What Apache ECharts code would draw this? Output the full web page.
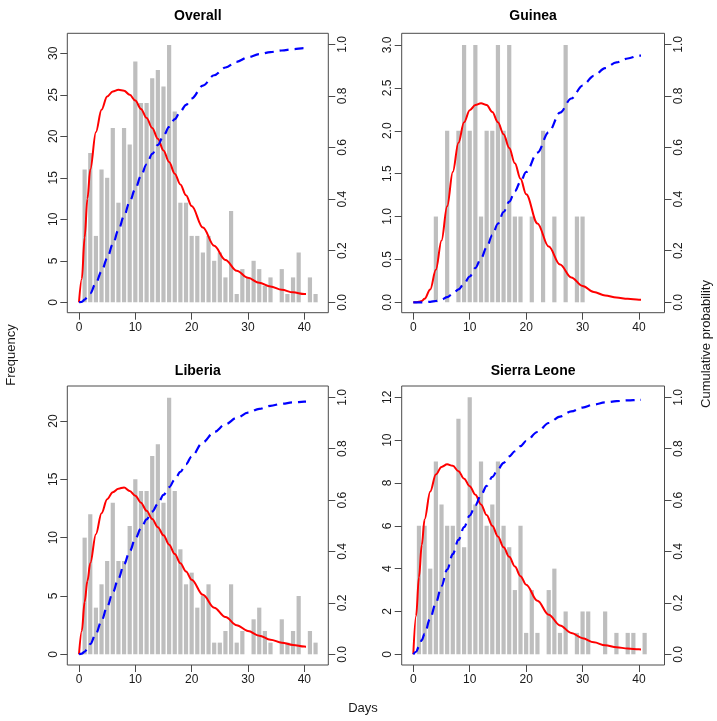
<!DOCTYPE html>
<html>
<head>
<meta charset="utf-8">
<script src="https://cdn.jsdelivr.net/npm/echarts@6/dist/echarts.min.js"></script>
<style>
  html, body { margin: 0; padding: 0; background: #ffffff; }
  #chart { width: 717px; height: 721px; }
</style>
</head>
<body>
<div id="chart"></div>
<script>
// Incubation period: daily case counts (bars), fitted density (red) and cumulative probability (blue, dashed)
const days = [0,1,2,3,4,5,6,7,8,9,10,11,12,13,14,15,16,17,18,19,20,21,22,23,24,25,26,27,28,29,30,31,32,33,34,35,36,37,38,39,40,41,42];

const overallCounts     = [0,16,18,8,16,15,21,12,21,19,29,24,24,27,28,26,31,23,12,12,8,8,6,8,5,6,3,11,1,4,3,5,4,2,3,0,4,1,3,6,0,3,1];
const guineaCounts      = [0,0,0,0,1,0,2,0,2,3,2,3,1,2,2,3,2,3,1,1,0,1,0,2,0,1,0,3,0,1,1,0,0,0,0,0,0,0,0,0,0,0,0];
const liberiaCounts     = [0,10,12,4,6,8,13,8,8,11,15,14,14,17,18,13,22,14,9,6,7,4,5,6,1,1,2,6,1,2,0,3,4,2,1,0,3,1,2,5,0,2,1];
const sierraLeoneCounts = [0,6,6,4,9,7,6,6,11,5,12,7,9,6,7,9,6,5,3,6,1,3,1,0,3,4,1,2,0,1,2,2,0,0,2,0,1,0,1,1,0,1,0];

const curveDays = [0,0.5,1,1.5,2,3,4,5,6,7,8,9,10,11,12,13,14,15,16,17,18,19,20,22,24,26,28,30,32,34,36,38,40,42];

const overallDensity     = [0,2.8,7.8,12.5,16,20.5,23.2,24.8,25.4,25.6,25.5,25.0,24.3,23.3,22.2,21.0,19.7,18.3,16.9,15.5,14.2,12.9,11.6,9.0,6.8,5.1,3.8,2.95,2.35,1.9,1.5,1.2,1.0,0.85];
const guineaDensity      = [0,0,0.005,0.015,0.04,0.15,0.38,0.72,1.12,1.52,1.86,2.1,2.24,2.3,2.32,2.3,2.22,2.1,1.96,1.8,1.62,1.44,1.26,0.92,0.65,0.44,0.29,0.19,0.12,0.08,0.055,0.04,0.03,0.02];
const liberiaDensity     = [0,2.0,4.5,6.3,7.8,10.3,12.1,13.3,13.9,14.2,14.3,14.0,13.6,13.0,12.3,11.6,10.9,10.2,9.4,8.6,7.8,7.1,6.4,5.1,4.0,3.2,2.5,2.0,1.6,1.25,1.0,0.8,0.66,0.56];
const sierraLeoneDensity = [0,1.8,3.6,5.1,6.3,7.6,8.4,8.75,8.87,8.8,8.55,8.2,7.85,7.45,7.0,6.5,6.0,5.5,5.0,4.55,4.1,3.65,3.25,2.5,1.85,1.35,1.0,0.75,0.56,0.42,0.33,0.27,0.23,0.2];

const overallCumulative     = [0,0.002,0.01,0.02,0.035,0.075,0.12,0.17,0.225,0.28,0.335,0.39,0.44,0.49,0.535,0.575,0.61,0.645,0.68,0.71,0.74,0.765,0.79,0.84,0.88,0.91,0.932,0.95,0.962,0.97,0.976,0.981,0.985,0.989];
const guineaCumulative      = [0,0,0,0,0,0.002,0.005,0.01,0.02,0.033,0.05,0.072,0.1,0.133,0.17,0.213,0.26,0.305,0.35,0.39,0.43,0.468,0.505,0.58,0.66,0.735,0.79,0.84,0.878,0.908,0.93,0.945,0.956,0.964];
const liberiaCumulative     = [0,0.003,0.01,0.022,0.04,0.08,0.13,0.185,0.24,0.295,0.35,0.4,0.45,0.49,0.525,0.555,0.585,0.62,0.65,0.68,0.71,0.74,0.77,0.825,0.865,0.895,0.92,0.94,0.955,0.967,0.975,0.98,0.983,0.985];
const sierraLeoneCumulative = [0,0.01,0.03,0.055,0.08,0.14,0.2,0.265,0.33,0.39,0.445,0.495,0.54,0.58,0.62,0.655,0.69,0.72,0.745,0.77,0.79,0.81,0.83,0.865,0.9,0.925,0.945,0.96,0.972,0.98,0.985,0.988,0.99,0.991];

const panelTitles = ['Overall', 'Guinea', 'Liberia', 'Sierra Leone'];
const freqAxisMax  = [30, 3, 20, 12];
const freqAxisStep = [5, 0.5, 5, 2];
const freqDigits   = [0, 1, 0, 0];

// Pixel layout of each panel: frame box, x positions of day 0 / day 40,
// y of the zero line, y of the top frequency tick and of probability 1.0
const layout = [
  { box: [67.3, 33.3, 328.3, 312.7], x0: 79.0,  x40: 304.3, y0: 302.3, freqTop: 53.3,  probTop: 44.3 },
  { box: [401.7, 33.3, 664.5, 312.7], x0: 413.3, x40: 639.0, y0: 302.3, freqTop: 45.0,  probTop: 44.3 },
  { box: [67.3, 386.0, 328.3, 665.0], x0: 79.0,  x40: 304.3, y0: 654.3, freqTop: 421.0, probTop: 397.3 },
  { box: [401.7, 386.0, 664.5, 665.0], x0: 413.3, x40: 639.0, y0: 654.3, freqTop: 397.3, probTop: 397.3 }
];

const counts = [overallCounts, guineaCounts, liberiaCounts, sierraLeoneCounts];
const densities = [overallDensity, guineaDensity, liberiaDensity, sierraLeoneDensity];
const cumulatives = [overallCumulative, guineaCumulative, liberiaCumulative, sierraLeoneCumulative];

const FONT = '"Liberation Sans", Arial, Helvetica, sans-serif';
const AXIS_COLOR = '#4a4a4a';
const TEXT_COLOR = '#1a1a1a';

const tickStyle = { show: true, length: 7, lineStyle: { color: AXIS_COLOR, width: 1 } };
const hiddenLine = { show: false, onZero: false };

const grid = [], xAxis = [], yAxis = [], series = [], graphic = [];

layout.forEach((p, i) => {
  const [L, T, R, B] = p.box;

  // frame around the panel
  const gFrame = grid.length;
  grid.push({ left: L, top: T, width: R - L, height: B - T, show: true,
              borderColor: AXIS_COLOR, borderWidth: 1, backgroundColor: 'transparent' });
  xAxis.push({ gridIndex: gFrame, type: 'value', show: false, min: 0, max: 1 });
  yAxis.push({ gridIndex: gFrame, type: 'value', show: false, min: 0, max: 1 });

  // frequency scale (bars and density curve)
  const gFreq = grid.length;
  grid.push({ left: p.x0, top: p.freqTop, width: p.x40 - p.x0, height: p.y0 - p.freqTop });
  const xFreq = xAxis.length;
  xAxis.push({
    gridIndex: gFreq, type: 'value', min: 0, max: 40, interval: 10, position: 'bottom',
    offset: B - p.y0,
    axisLine: hiddenLine,
    axisTick: tickStyle,
    axisLabel: { margin: 9, color: TEXT_COLOR, fontSize: 12, fontFamily: FONT },
    splitLine: { show: false }
  });
  const yFreq = yAxis.length;
  const digits = freqDigits[i];
  yAxis.push({
    gridIndex: gFreq, type: 'value', min: 0, max: freqAxisMax[i], interval: freqAxisStep[i],
    position: 'left', offset: p.x0 - L,
    axisLine: hiddenLine,
    axisTick: tickStyle,
    axisLabel: { rotate: 90, margin: 8, color: TEXT_COLOR, fontSize: 12, fontFamily: FONT,
                 formatter: v => v.toFixed(digits) },
    splitLine: { show: false }
  });

  // probability scale (cumulative curve)
  const gProb = grid.length;
  grid.push({ left: p.x0, top: p.probTop, width: p.x40 - p.x0, height: p.y0 - p.probTop });
  const xProb = xAxis.length;
  xAxis.push({ gridIndex: gProb, type: 'value', min: 0, max: 40, show: false });
  const yProb = yAxis.length;
  yAxis.push({
    gridIndex: gProb, type: 'value', min: 0, max: 1, interval: 0.2,
    position: 'right', offset: R - p.x40,
    axisLine: hiddenLine,
    axisTick: tickStyle,
    axisLabel: { rotate: 90, margin: 8, color: TEXT_COLOR, fontSize: 12, fontFamily: FONT,
                 formatter: v => v.toFixed(1) },
    splitLine: { show: false }
  });

  series.push({
    type: 'bar', xAxisIndex: xFreq, yAxisIndex: yFreq, clip: false,
    barWidth: 4.2, itemStyle: { color: '#bebebe' }, silent: true,
    data: days.map((d, k) => [d, counts[i][k]])
  });
  series.push({
    type: 'line', xAxisIndex: xFreq, yAxisIndex: yFreq, clip: false,
    showSymbol: false, symbol: 'none', smooth: 0.35, smoothMonotone: 'x', silent: true,
    lineStyle: { color: '#ff0000', width: 2 },
    data: curveDays.map((d, k) => [d, densities[i][k]])
  });
  series.push({
    type: 'line', xAxisIndex: xProb, yAxisIndex: yProb, clip: false,
    showSymbol: false, symbol: 'none', smooth: 0.35, smoothMonotone: 'x', silent: true,
    lineStyle: { color: '#0000ff', width: 2.2, type: [9, 6] },
    data: curveDays.map((d, k) => [d, cumulatives[i][k]])
  });

  graphic.push({
    type: 'text', x: (L + R) / 2, y: i < 2 ? 16 : 371,
    style: { text: panelTitles[i], fill: '#000', font: 'bold 14px ' + FONT,
             align: 'center', verticalAlign: 'middle' }
  });
});

graphic.push({
  type: 'text', x: 11, y: 355, rotation: Math.PI / 2,
  style: { text: 'Frequency', fill: TEXT_COLOR, font: '13px ' + FONT, align: 'center', verticalAlign: 'middle' }
});
graphic.push({
  type: 'text', x: 706, y: 344, rotation: Math.PI / 2,
  style: { text: 'Cumulative probability', fill: TEXT_COLOR, font: '13px ' + FONT, align: 'center', verticalAlign: 'middle' }
});
graphic.push({
  type: 'text', x: 363, y: 708,
  style: { text: 'Days', fill: TEXT_COLOR, font: '13px ' + FONT, align: 'center', verticalAlign: 'middle' }
});

const chart = echarts.init(document.getElementById('chart'), null, { renderer: 'canvas' });
chart.setOption({
  animation: false,
  backgroundColor: '#ffffff',
  grid, xAxis, yAxis, series, graphic
});
</script>
</body>
</html>
